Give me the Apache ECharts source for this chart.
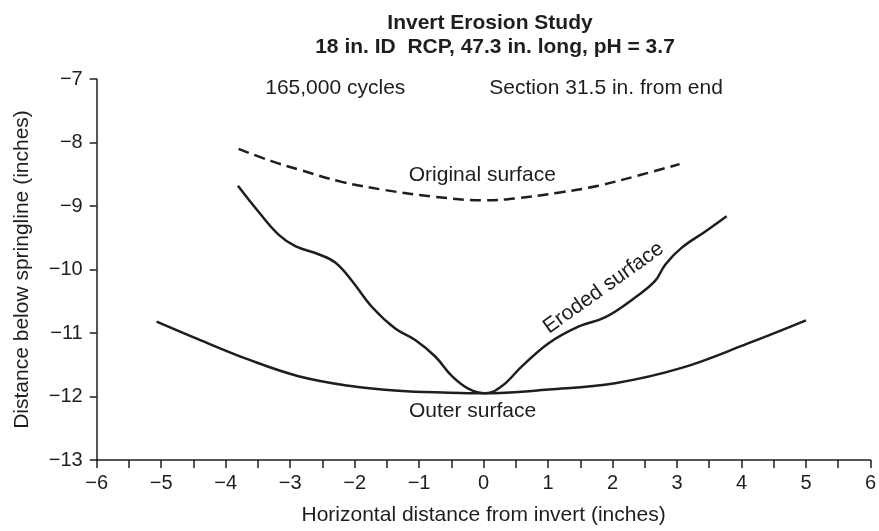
<!DOCTYPE html>
<html>
<head>
<meta charset="utf-8">
<script src="https://cdn.jsdelivr.net/npm/echarts@6/dist/echarts.min.js"></script>
<style>
html,body{margin:0;padding:0;background:#fff;}
#chart{width:879px;height:531px;}
</style>
</head>
<body>
<div id="chart"></div>
<script>
// ---- data ----
const titleLine1 = 'Invert Erosion Study';
const titleLine2 = '18 in. ID  RCP, 47.3 in. long, pH = 3.7';
const xAxisName = 'Horizontal distance from invert (inches)';
const yAxisName = 'Distance below springline (inches)';

const originalX = [-3.80, -3.30, -2.82, -2.20, -1.52, -0.80, 0.00, 0.49, 1.16, 1.78, 2.40, 3.04];
const originalY = [-8.10, -8.29, -8.44, -8.62, -8.75, -8.85, -8.91, -8.88, -8.79, -8.68, -8.52, -8.34];

const erodedX = [-3.81, -3.49, -3.18, -2.92, -2.56, -2.30, -2.04, -1.73, -1.37, -1.06, -0.75, -0.49, -0.23, 0.03, 0.28, 0.59, 1.01, 1.47, 1.89, 2.35, 2.66, 2.82, 3.07, 3.44, 3.77];
const erodedY = [-8.68, -9.09, -9.45, -9.63, -9.76, -9.89, -10.18, -10.59, -10.93, -11.11, -11.37, -11.68, -11.88, -11.95, -11.84, -11.53, -11.16, -10.90, -10.75, -10.44, -10.18, -9.92, -9.66, -9.40, -9.16];

const outerX = [-5.07, -4.42, -3.64, -2.87, -2.09, -1.32, -0.54, 0.00, 1.01, 2.04, 3.07, 4.11, 5.00];
const outerY = [-10.82, -11.10, -11.42, -11.68, -11.83, -11.91, -11.94, -11.95, -11.89, -11.79, -11.55, -11.16, -10.80];

const noteTexts = ['165,000 cycles', 'Section 31.5 in. from end', 'Original surface', 'Outer surface', 'Eroded surface'];
const noteX = [-2.30, 1.90, -0.02, -0.17, 1.86];
const noteY = [-7.14, -7.14, -8.52, -12.23, -10.29];
const noteRotate = [0, 0, 0, 0, 35.5];

const xMin = -6, xMax = 6, yMin = -13, yMax = -7;

// ---- build ----
const FONT = "'Liberation Sans', Arial, Helvetica, sans-serif";
const INK = '#1e1e1e';
const pairs = (xs, ys) => xs.map((x, i) => [x, ys[i]]);
const minus = v => String(v).replace('-', '\u2212');

const chart = echarts.init(document.getElementById('chart'), null, {renderer: 'canvas'});
chart.setOption({
  animation: false,
  backgroundColor: '#fff',
  title: [
    {text: titleLine1, left: 485, top: 8, textAlign: 'center',
     textStyle: {fontFamily: FONT, fontSize: 21, fontWeight: 'bold', color: INK}},
    {text: titleLine2, left: 490, top: 32, textAlign: 'center',
     textStyle: {fontFamily: FONT, fontSize: 21, fontWeight: 'bold', color: INK}}
  ],
  grid: {left: 96.7, right: 7, top: 79, bottom: 67, containLabel: false},
  xAxis: {
    type: 'value', min: xMin, max: xMax, interval: 1,
    name: xAxisName, nameLocation: 'middle', nameGap: 45,
    nameTextStyle: {fontFamily: FONT, fontSize: 21, color: INK},
    axisLine: {show: true, onZero: false, lineStyle: {color: INK, width: 1.5}},
    axisTick: {show: true, length: 8, inside: false, lineStyle: {color: INK, width: 1.5}},
    minorTick: {show: true, splitNumber: 2, length: 8, lineStyle: {color: INK, width: 1.5}},
    splitLine: {show: false},
    axisLabel: {fontFamily: FONT, fontSize: 20, color: INK, margin: 13, formatter: minus}
  },
  yAxis: {
    type: 'value', min: yMin, max: yMax, interval: 1,
    name: yAxisName, nameLocation: 'middle', nameGap: 64,
    nameTextStyle: {fontFamily: FONT, fontSize: 21, color: INK},
    axisLine: {show: true, onZero: false, lineStyle: {color: INK, width: 1.5}},
    axisTick: {show: true, length: 7, inside: false, lineStyle: {color: INK, width: 1.5}},
    splitLine: {show: false},
    axisLabel: {fontFamily: FONT, fontSize: 20, color: INK, margin: 14, formatter: minus}
  },
  series: [
    {type: 'line', name: 'Original surface', data: pairs(originalX, originalY), smooth: 0.4,
     showSymbol: false, lineStyle: {color: INK, width: 2.5, type: [11, 6]}},
    {type: 'line', name: 'Eroded surface', data: pairs(erodedX, erodedY), smooth: 0.4,
     showSymbol: false, lineStyle: {color: INK, width: 2.5}},
    {type: 'line', name: 'Outer surface', data: pairs(outerX, outerY), smooth: 0.4,
     showSymbol: false, lineStyle: {color: INK, width: 2.5}},
    {type: 'scatter', name: 'notes', symbolSize: 0, silent: true,
     itemStyle: {color: INK, opacity: 1},
     data: noteTexts.map((t, i) => ({
       value: [noteX[i], noteY[i]],
       label: {show: true, position: 'inside', formatter: t, rotate: noteRotate[i],
               fontFamily: FONT, fontSize: 21, color: INK, opacity: 1,
               textBorderWidth: 0, textShadowBlur: 0}
     }))}
  ]
});
</script>
</body>
</html>
